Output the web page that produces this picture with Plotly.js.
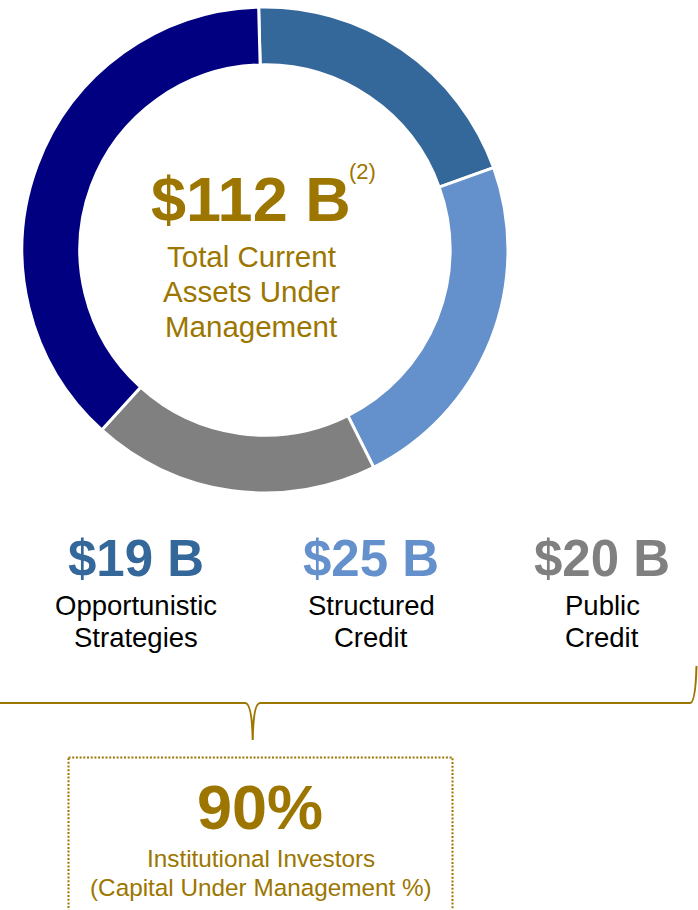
<!DOCTYPE html>
<html>
<head>
<meta charset="utf-8">
<script src="https://cdn.plot.ly/plotly-3.0.1.min.js"></script>
<style>
html,body{margin:0;padding:0;background:#fff;}
#chart{width:698px;height:910px;}
</style>
</head>
<body>
<div id="chart"></div>
<script>
// ---- data ----
const sliceNames = ['Opportunistic Strategies', 'Structured Credit', 'Public Credit', 'Other Strategies'];
const sliceValues = [22.3, 25.9, 21.4, 42.4];       // arc sizes as drawn (billions, sums to ~112)
const sliceColors = ['#35689A', '#6490CB', '#808080', '#000080'];
const totalLabel = '$112 B';
const totalNote = '(2)';
const totalCaption = ['Total Current', 'Assets Under', 'Management'];
const cardValues = ['$19 B', '$25 B', '$20 B'];
const cardLines = [['Opportunistic', 'Strategies'], ['Structured', 'Credit'], ['Public', 'Credit']];
const cardColors = ['#35689A', '#6490CB', '#808080'];
const investorShare = '90%';
const investorCaption = ['Institutional Investors', '(Capital Under Management %)'];

// ---- layout helpers (pixel -> paper) ----
const W = 698, H = 910;
const px = x => x / W;
const py = y => 1 - y / H;
const GOLD = '#9C7600';
const FONT = 'Liberation Sans, Arial, sans-serif';

const annotations = [];
function txt(text, x, y, size, color, bold) {
  annotations.push({
    text: bold ? '<b>' + text + '</b>' : text,
    x: px(x), y: py(y), xref: 'paper', yref: 'paper',
    xanchor: 'center', yanchor: 'middle', showarrow: false,
    font: {family: FONT, size: size, color: color}
  });
}

txt(totalLabel, 251, 199, 63, GOLD, true);
txt(totalNote, 362, 171, 22, GOLD, false);
totalCaption.forEach((t, i) => txt(t, 251, 256 + i * 35, 29.5, GOLD, false));

const cardX = [136, 371, 602];
cardValues.forEach((v, i) => {
  txt(v, cardX[i], 558, 51, cardColors[i], true);
  cardLines[i].forEach((t, j) => txt(t, cardX[i], 605 + j * 32, 27.5, '#000000', false));
});

txt(investorShare, 260, 807, 63, GOLD, true);
investorCaption.forEach((t, i) => txt(t, 261, 858 + i * 29, 24.3, GOLD, false));

function P(x, y) { return px(x) + ',' + py(y); }
const bracePath = 'M' + P(-2, 703) + ' L' + P(245, 703) +
  ' Q' + P(252, 703) + ' ' + P(252.7, 740) +
  ' Q' + P(253.4, 703) + ' ' + P(260, 703) +
  ' L' + P(690, 703) + ' Q' + P(695.5, 703) + ' ' + P(696.5, 666);

const shapes = [
  {type: 'path', xref: 'paper', yref: 'paper', path: bracePath,
   line: {color: GOLD, width: 2}},
  {type: 'rect', xref: 'paper', yref: 'paper',
   x0: px(68.5), x1: px(452.5), y0: py(757.5), y1: py(915),
   line: {color: GOLD, width: 2, dash: '2px,1.7px'}}
];

const trace = {
  type: 'pie',
  labels: sliceNames,
  values: sliceValues,
  marker: {colors: sliceColors, line: {color: '#ffffff', width: 3}},
  hole: 0.762,
  sort: false,
  direction: 'clockwise',
  rotation: -1.5,
  textinfo: 'none',
  hoverinfo: 'none',
  showlegend: false,
  domain: {x: [px(22), px(508)], y: [py(493), py(7)]}
};

const layout = {
  width: W, height: H,
  margin: {l: 0, r: 0, t: 0, b: 0},
  paper_bgcolor: '#ffffff',
  plot_bgcolor: '#ffffff',
  showlegend: false,
  annotations: annotations,
  shapes: shapes
};

Plotly.newPlot('chart', [trace], layout, {displayModeBar: false, staticPlot: true});
</script>
</body>
</html>
